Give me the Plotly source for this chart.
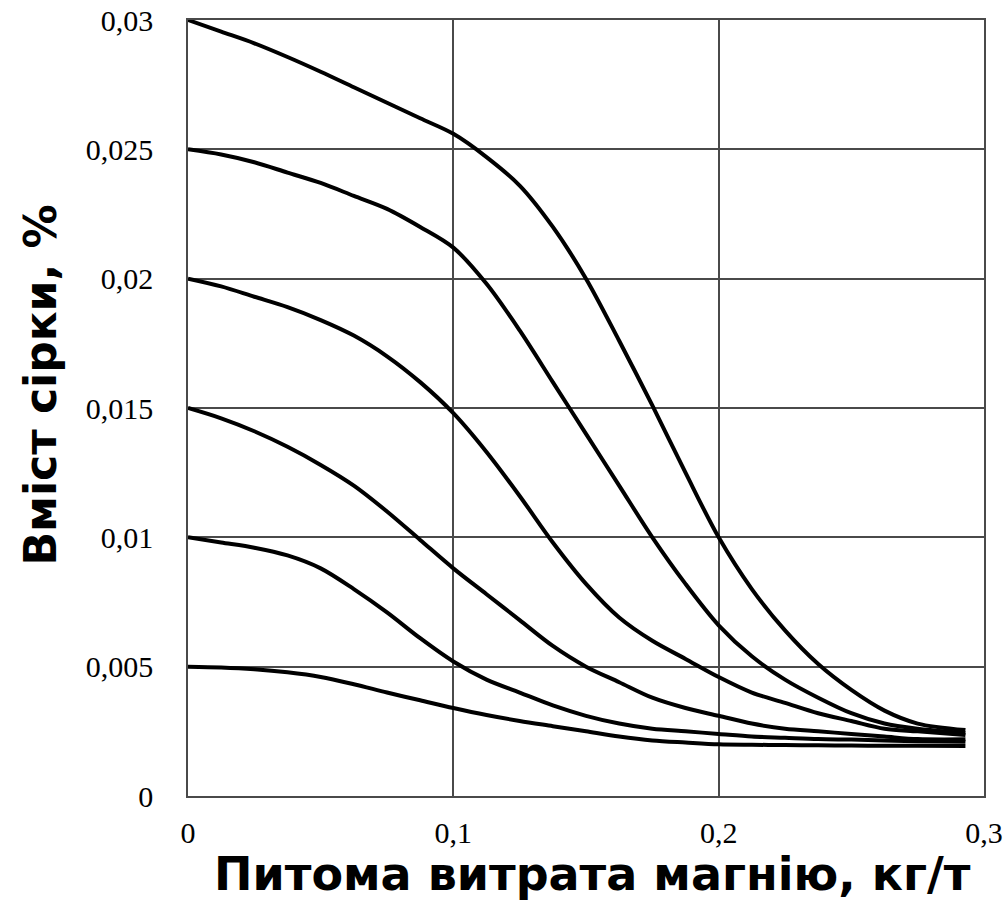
import plotly.graph_objects as go

# Питома витрата магнію, кг/т
x_mg = [0, 0.0125, 0.025, 0.0375, 0.05, 0.0625, 0.075, 0.0875, 0.1, 0.1125, 0.125, 0.1375,
        0.15, 0.1625, 0.175, 0.1875, 0.2, 0.2125, 0.225, 0.2375, 0.25, 0.2625, 0.275, 0.293]

# Вміст сірки, % for six initial sulphur contents
s_030 = [0.0300, 0.02955, 0.0291, 0.02857, 0.0280, 0.0274, 0.0268, 0.0262, 0.0256, 0.0247,
         0.0236, 0.0220, 0.0200, 0.0176, 0.0151, 0.0125, 0.0100, 0.0080, 0.0064, 0.0051,
         0.0041, 0.0033, 0.0028, 0.00255]
s_025 = [0.0250, 0.0248, 0.0245, 0.0241, 0.0237, 0.0232, 0.0227, 0.0220, 0.0212, 0.0198,
         0.0180, 0.0160, 0.0140, 0.0120, 0.0100, 0.0082, 0.0066, 0.0054, 0.0045, 0.0038,
         0.0032, 0.0028, 0.0026, 0.00243]
s_020 = [0.0200, 0.0197, 0.0193, 0.0189, 0.0184, 0.0178, 0.0170, 0.0160, 0.0148, 0.0133,
         0.0116, 0.0098, 0.0082, 0.0069, 0.0060, 0.0053, 0.0046, 0.0040, 0.0036, 0.0032,
         0.0029, 0.0026, 0.0025, 0.00236]
s_015 = [0.0150, 0.0146, 0.0141, 0.0135, 0.0128, 0.0120, 0.0110, 0.0099, 0.0088, 0.0078,
         0.0068, 0.0058, 0.0050, 0.0044, 0.0038, 0.0034, 0.0031, 0.0028, 0.0026, 0.0025,
         0.0024, 0.0023, 0.0022, 0.00219]
s_010 = [0.0100, 0.0098, 0.0096, 0.0093, 0.0088, 0.0080, 0.0071, 0.0061, 0.0052, 0.0045,
         0.0040, 0.0035, 0.0031, 0.0028, 0.0026, 0.0025, 0.0024, 0.0023, 0.00225, 0.0022,
         0.00218, 0.00215, 0.00212, 0.0021]
s_005 = [0.0050, 0.00497, 0.0049, 0.00478, 0.0046, 0.00432, 0.0040, 0.0037, 0.0034, 0.00313,
         0.0029, 0.0027, 0.0025, 0.0023, 0.00215, 0.00207, 0.0020, 0.00198, 0.00197, 0.00196,
         0.00195, 0.00194, 0.00194, 0.00193]

series = [s_030, s_025, s_020, s_015, s_010, s_005]

x_tickvals = [0, 0.1, 0.2, 0.3]
x_ticktext = ["0", "0,1", "0,2", "0,3"]
y_tickvals = [0, 0.005, 0.01, 0.015, 0.02, 0.025, 0.03]
y_ticktext = ["0", "0,005", "0,01", "0,015", "0,02", "0,025", "0,03"]

x_title = "Питома витрата магнію, кг/т"
y_title = "Вміст сірки, %"

fig = go.Figure()
for s in series:
    fig.add_trace(go.Scatter(
        x=x_mg, y=s, mode="lines",
        line=dict(color="black", width=4, shape="spline", smoothing=0.9),
        showlegend=False, hoverinfo="skip",
    ))

tick_font = dict(family="Liberation Serif", size=30, color="black")
grid_col = "#4a4a4a"

fig.update_layout(
    template="none",
    width=1008, height=903,
    margin=dict(l=188, r=24, t=20, b=107, autoexpand=False),
    paper_bgcolor="white", plot_bgcolor="white",
    showlegend=False,
    xaxis=dict(
        range=[0, 0.3], tickvals=x_tickvals, ticktext=x_ticktext,
        showgrid=True, gridcolor=grid_col, gridwidth=1.5,
        showline=True, linecolor=grid_col, linewidth=1.5, mirror=True,
        zeroline=False, ticks="", tickfont=tick_font, ticklabelstandoff=9,
        automargin=False,
    ),
    yaxis=dict(
        range=[0, 0.03], tickvals=y_tickvals, ticktext=y_ticktext,
        showgrid=True, gridcolor=grid_col, gridwidth=1.5,
        showline=True, linecolor=grid_col, linewidth=1.5, mirror=True,
        zeroline=False, ticks="", tickfont=tick_font, ticklabelstandoff=27,
        automargin=False,
    ),
    annotations=[
        dict(text="<b>" + x_title + "</b>", xref="paper", yref="paper",
             x=0.508, y=-0.101, xanchor="center", yanchor="middle", showarrow=False,
             font=dict(family="DejaVu Sans", size=46, color="black")),
        dict(text="<b>" + y_title + "</b>", xref="paper", yref="paper",
             x=-0.185, y=0.53, xanchor="center", yanchor="middle", showarrow=False,
             textangle=-90,
             font=dict(family="DejaVu Sans", size=44, color="black")),
    ],
)

fig.write_html(
    "out.html",
    config={"displayModeBar": False},
    post_script=(
        "document.documentElement.style.margin='0';"
        "document.body.style.margin='0';document.body.style.overflow='hidden';"
        "var gd=document.getElementById('{plot_id}');"
        "gd.style.position='fixed';gd.style.top='0px';gd.style.left='0px';"
    ),
)
